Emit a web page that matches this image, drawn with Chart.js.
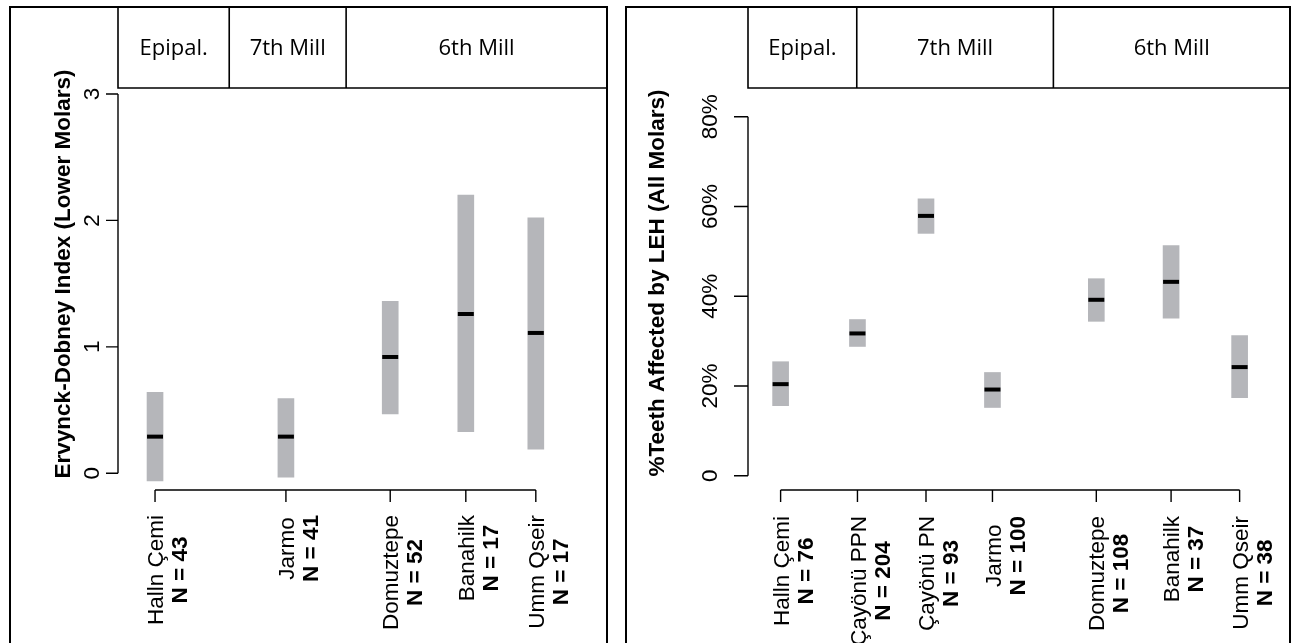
<!DOCTYPE html>
<html><head><meta charset="utf-8">
<script src="https://cdn.jsdelivr.net/npm/chart.js@4"></script>
<style>
html,body{margin:0;padding:0;background:#fff;overflow:hidden;width:1296px;height:643px}
canvas{position:absolute;left:0;top:0}
</style></head>
<body>
<canvas id="c1" width="1296" height="643"></canvas>
<canvas id="c2" width="1296" height="643"></canvas>
<script>
// ---------- DATA: left panel (Ervynck-Dobney Index, lower molars) ----------
const leftSites  = ['Halln Çemi', 'Jarmo', 'Domuztepe', 'Banahilk', 'Umm Qseir'];
const leftN      = [43, 41, 52, 17, 17];
const leftSiteX  = [1, 2.87, 4.36, 5.44, 6.44];
const leftLow    = [-0.06, -0.03, 0.47, 0.33, 0.19];
const leftHigh   = [0.64, 0.59, 1.36, 2.20, 2.02];
const leftMedian = [0.29, 0.29, 0.92, 1.26, 1.11];
const leftYTicks = [0, 1, 2, 3];
const leftYTickLabels = ['0', '1', '2', '3'];
const leftPeriods = ['Epipal.', '7th Mill', '6th Mill'];
const leftPeriodBounds = [2.06, 3.73];

// ---------- DATA: right panel (% teeth affected by LEH, all molars) ----------
const rightSites  = ['Halln Çemi', 'Çayönü PPN', 'Çayönü PN', 'Jarmo', 'Domuztepe', 'Banahilk', 'Umm Qseir'];
const rightN      = [76, 204, 93, 100, 108, 37, 38];
const rightSiteX  = [1, 2.11, 3.10, 4.06, 5.56, 6.64, 7.63];
const rightLow    = [15.6, 28.8, 54.0, 15.2, 34.4, 35.1, 17.4];
const rightHigh   = [25.4, 34.8, 61.7, 23.0, 43.9, 51.3, 31.2];
const rightMedian = [20.4, 31.7, 57.9, 19.2, 39.2, 43.2, 24.2];
const rightYTicks = [0, 20, 40, 60, 80];
const rightYTickLabels = ['0', '20%', '40%', '60%', '80%'];
const rightPeriods = ['Epipal.', '7th Mill', '6th Mill'];
const rightPeriodBounds = [2.10, 4.94];

// ---------- drawing helpers ----------
const AXIS_FONT = '"Liberation Sans", Arial, Helvetica, sans-serif';
const HEAD_FONT = '"Open Sans", "Noto Sans", sans-serif';
const CAP = 0.716;

function rotText(ctx, txt, x, y, align) {
  ctx.save();
  ctx.translate(x, y);
  ctx.rotate(-Math.PI / 2);
  ctx.textAlign = align;
  ctx.textBaseline = 'alphabetic';
  ctx.fillText(txt, 0, 0);
  ctx.restore();
}

const framePlugin = {
  id: 'frame',
  afterDraw(chart, args, o) {
    const ctx = chart.ctx, xs = chart.scales.x, ys = chart.scales.y, a = chart.chartArea;
    const L = o.layout;
    ctx.save();
    ctx.fillStyle = '#000';
    ctx.strokeStyle = '#000';
    // outer panel border
    ctx.lineWidth = 2;
    ctx.strokeRect(L.boxLeft, L.boxTop, L.boxRight - L.boxLeft, 800);
    // header cells
    ctx.lineWidth = 1.6;
    const edges = [a.left, ...o.periodBounds.map(v => xs.getPixelForValue(v)), L.boxRight];
    ctx.beginPath();
    ctx.moveTo(a.left, L.boxTop); ctx.lineTo(a.left, a.top); ctx.lineTo(L.boxRight, a.top);
    for (let i = 1; i < edges.length - 1; i++) {
      ctx.moveTo(edges[i], L.boxTop); ctx.lineTo(edges[i], a.top);
    }
    ctx.stroke();
    ctx.font = L.headSize + 'px ' + HEAD_FONT;
    ctx.textAlign = 'center'; ctx.textBaseline = 'alphabetic';
    const hy = (L.boxTop + a.top) / 2 + L.headSize * 0.714 / 2;
    o.periods.forEach((p, i) => ctx.fillText(p, (edges[i] + edges[i + 1]) / 2, hy));

    // y axis
    ctx.lineWidth = 1.4;
    const yt = o.yTicks;
    ctx.beginPath();
    ctx.moveTo(a.left, ys.getPixelForValue(yt[0]));
    ctx.lineTo(a.left, ys.getPixelForValue(yt[yt.length - 1]));
    yt.forEach(v => { const p = ys.getPixelForValue(v); ctx.moveTo(a.left, p); ctx.lineTo(a.left - L.yTickLen, p); });
    // x axis
    const xv = o.siteX;
    ctx.moveTo(xs.getPixelForValue(xv[0]), a.bottom);
    ctx.lineTo(xs.getPixelForValue(xv[xv.length - 1]), a.bottom);
    xv.forEach(v => { const p = xs.getPixelForValue(v); ctx.moveTo(p, a.bottom); ctx.lineTo(p, a.bottom + L.xTickLen); });
    ctx.stroke();

    // y tick labels
    ctx.font = L.fs + 'px ' + AXIS_FONT;
    yt.forEach((v, i) => rotText(ctx, o.yTickLabels[i], L.yLabelX + L.fs * CAP / 2, ys.getPixelForValue(v), 'center'));
    // y title
    ctx.font = 'bold ' + L.fs + 'px ' + AXIS_FONT;
    rotText(ctx, o.yTitle, L.yTitleX + L.fs * CAP / 2, L.yTitleY, 'center');

    // x labels: site name over bold N, block right-aligned at axis
    o.sites.forEach((s, i) => {
      const px = xs.getPixelForValue(xv[i]);
      const nTxt = 'N = ' + o.n[i];
      ctx.font = L.fs + 'px ' + AXIS_FONT;
      const w1 = ctx.measureText(s).width;
      ctx.font = 'bold ' + L.fs + 'px ' + AXIS_FONT;
      const w2 = ctx.measureText(nTxt).width;
      const cy = L.labelTop + Math.max(w1, w2) / 2;
      ctx.font = L.fs + 'px ' + AXIS_FONT;
      rotText(ctx, s, px + L.fs * CAP / 2, cy, 'center');
      ctx.font = 'bold ' + L.fs + 'px ' + AXIS_FONT;
      rotText(ctx, nTxt, px + L.lineGap + L.fs * CAP / 2, cy, 'center');
    });
    ctx.restore();
  }
};

function makePanel(id, d) {
  return new Chart(document.getElementById(id), {
    type: 'bar',
    data: {
      datasets: [
        {
          type: 'bar',
          data: d.siteX.map((x, i) => ({ x: x, y: [d.low[i], d.high[i]] })),
          backgroundColor: '#b5b6ba',
          borderWidth: 0,
          barThickness: 16,
          grouped: false,
          order: 2
        },
        {
          type: 'scatter',
          data: d.siteX.map((x, i) => ({ x: x, y: d.median[i] })),
          pointStyle: 'line',
          pointRadius: 8,
          pointBorderWidth: 4,
          borderColor: '#000',
          backgroundColor: '#000',
          order: 1
        }
      ]
    },
    options: {
      responsive: false,
      animation: false,
      events: [],
      layout: { padding: d.padding },
      plugins: { legend: { display: false }, tooltip: { enabled: false }, frame: d.frame },
      scales: {
        x: { type: 'linear', min: d.xMin, max: d.xMax, offset: false, display: false, grid: { offset: false } },
        y: { type: 'linear', min: d.yMin, max: d.yMax, display: false }
      }
    },
    plugins: [framePlugin]
  });
}

makePanel('c1', {
  siteX: leftSiteX, low: leftLow, high: leftHigh, median: leftMedian,
  xMin: 0.471, xMax: 7.457, yMin: -0.132, yMax: 3.047,
  padding: { left: 118, top: 88, right: 1296 - 607, bottom: 643 - 490 },
  frame: {
    periods: leftPeriods, periodBounds: leftPeriodBounds,
    yTicks: leftYTicks, yTickLabels: leftYTickLabels, siteX: leftSiteX,
    sites: leftSites, n: leftN,
    yTitle: 'Ervynck-Dobney Index (Lower Molars)',
    layout: { boxLeft: 10, boxTop: 7, boxRight: 607, headSize: 22, yTickLen: 12, xTickLen: 12,
              fs: 22.5, yLabelX: 91, yTitleX: 62, yTitleY: 274, labelTop: 515, lineGap: 24 }
  }
});

makePanel('c2', {
  siteX: rightSiteX, low: rightLow, high: rightHigh, median: rightMedian,
  xMin: 0.529, xMax: 8.271, yMin: -3.19, yMax: 86.4,
  padding: { left: 748, top: 88, right: 1296 - 1290, bottom: 643 - 490 },
  frame: {
    periods: rightPeriods, periodBounds: rightPeriodBounds,
    yTicks: rightYTicks, yTickLabels: rightYTickLabels, siteX: rightSiteX,
    sites: rightSites, n: rightN,
    yTitle: '%Teeth Affected by LEH (All Molars)',
    layout: { boxLeft: 626, boxTop: 7, boxRight: 1290, headSize: 22, yTickLen: 14, xTickLen: 12,
              fs: 22.5, yLabelX: 709, yTitleX: 656, yTitleY: 283, labelTop: 516, lineGap: 24 }
  }
});
</script>
</body></html>
